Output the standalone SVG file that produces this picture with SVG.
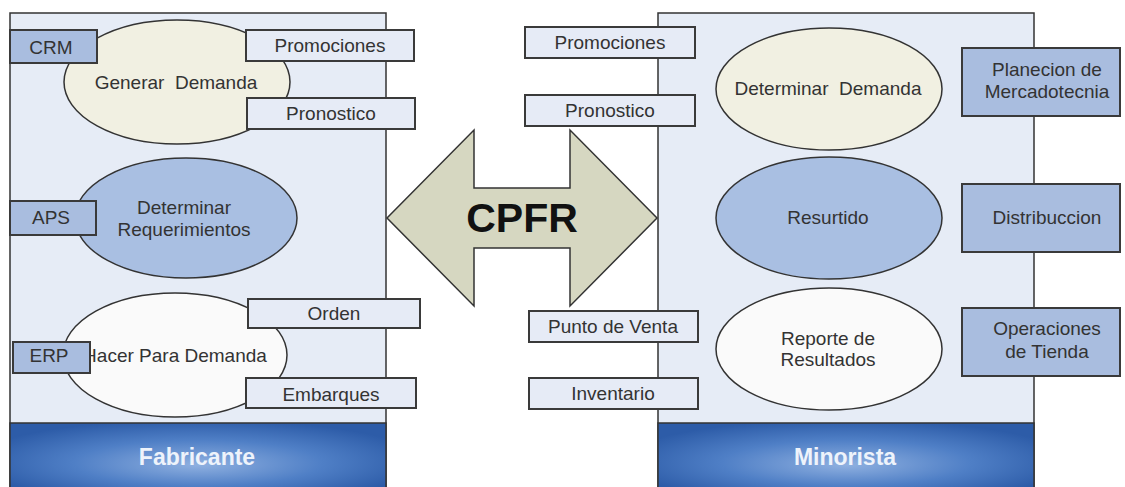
<svg xmlns="http://www.w3.org/2000/svg" width="1125" height="487" viewBox="0 0 1125 487">
<defs>
<radialGradient id="foot" cx="0.5" cy="0.55" r="0.6" fx="0.5" fy="0.6">
<stop offset="0" stop-color="#8fb0e0"/>
<stop offset="0.55" stop-color="#4f7fc6"/>
<stop offset="1" stop-color="#2d5ca8"/>
</radialGradient>
<style>
text{font-family:"Liberation Sans",Arial,sans-serif;font-size:19px;fill:#333;text-anchor:middle}
.panel{fill:#e6ecf6;stroke:#333;stroke-width:1.5}
.foot{fill:url(#foot);stroke:#333;stroke-width:1.5}
.ft{font-weight:bold;font-size:23px;fill:#eef3fb}
.lb{fill:#e6ebf6;stroke:#3a3a3a;stroke-width:2}
.db{fill:#a9bddf;stroke:#3a3a3a;stroke-width:2}
.e{stroke:#333;stroke-width:1.5}
.cream{fill:#f1f0e2}
.blue{fill:#a9bfe2}
.white{fill:#fafafa}
.arrow{fill:#d6d7c1;stroke:#333;stroke-width:1.5}
</style>
</defs>
<rect width="1125" height="487" fill="#ffffff"/>
<g id="panel-fabricante">
<rect class="panel" x="10" y="13" width="376" height="480"/>
<rect class="foot" x="10" y="423" width="376" height="70"/>
<text class="ft" x="197" y="465">Fabricante</text>
</g>
<g id="panel-minorista">
<rect class="panel" x="658" y="13" width="376" height="480"/>
<rect class="foot" x="658" y="423" width="376" height="70"/>
<text class="ft" x="845" y="465">Minorista</text>
</g>
<g id="generar-demanda">
<ellipse class="e cream" cx="177" cy="82" rx="113" ry="62"/>
<text x="176" y="89" xml:space="preserve">Generar  Demanda</text>
</g>
<g id="determinar-requerimientos">
<ellipse class="e blue" cx="186" cy="218" rx="111" ry="60"/>
<text x="184" y="214">Determinar</text>
<text x="184" y="236">Requerimientos</text>
</g>
<g id="hacer-para-demanda">
<ellipse class="e white" cx="175" cy="355" rx="112" ry="62"/>
<text x="175" y="362">Hacer Para Demanda</text>
</g>
<g id="crm"><rect class="db" x="10" y="30" width="87" height="33"/><text x="51" y="54">CRM</text></g>
<g id="aps"><rect class="db" x="10" y="201" width="86" height="34"/><text x="51" y="224">APS</text></g>
<g id="erp"><rect class="db" x="13" y="342" width="77" height="31"/><text x="49" y="362">ERP</text></g>
<g id="promociones-f"><rect class="lb" x="246" y="30" width="168" height="31"/><text x="330" y="52">Promociones</text></g>
<g id="pronostico-f"><rect class="lb" x="247" y="98" width="168" height="31"/><text x="331" y="120">Pronostico</text></g>
<g id="orden"><rect class="lb" x="248" y="299" width="172" height="29"/><text x="334" y="320">Orden</text></g>
<g id="embarques"><rect class="lb" x="246" y="378" width="170" height="30"/><text x="331" y="401">Embarques</text></g>
<g id="cpfr">
<polygon class="arrow" points="387,218 474,130 474,188 570,188 570,130 657,218 570,306 570,248 474,248 474,306"/>
<text x="522" y="232" style="font-weight:bold;font-size:41px;fill:#111">CPFR</text>
</g>
<g id="determinar-demanda">
<ellipse class="e cream" cx="829" cy="89" rx="113" ry="61"/>
<text x="828" y="95" xml:space="preserve">Determinar  Demanda</text>
</g>
<g id="resurtido">
<ellipse class="e blue" cx="829" cy="218" rx="113" ry="61"/>
<text x="828" y="224">Resurtido</text>
</g>
<g id="reporte-resultados">
<ellipse class="e white" cx="829" cy="349" rx="113" ry="61"/>
<text x="828" y="345">Reporte de</text>
<text x="828" y="366">Resultados</text>
</g>
<g id="promociones-m"><rect class="lb" x="525" y="27" width="170" height="31"/><text x="610" y="49">Promociones</text></g>
<g id="pronostico-m"><rect class="lb" x="525" y="95" width="170" height="31"/><text x="610" y="117">Pronostico</text></g>
<g id="punto-venta"><rect class="lb" x="529" y="311" width="169" height="31"/><text x="613" y="333">Punto de Venta</text></g>
<g id="inventario"><rect class="lb" x="529" y="378" width="169" height="31"/><text x="613" y="400">Inventario</text></g>
<g id="planecion"><rect class="db" x="962" y="48" width="158" height="68"/><text x="1047" y="76">Planecion de</text><text x="1047" y="98">Mercadotecnia</text></g>
<g id="distribucion"><rect class="db" x="962" y="184" width="158" height="68"/><text x="1047" y="224">Distribuccion</text></g>
<g id="operaciones"><rect class="db" x="962" y="308" width="158" height="68"/><text x="1047" y="335">Operaciones</text><text x="1047" y="358">de Tienda</text></g>
<g id="connectors"></g>
</svg>
